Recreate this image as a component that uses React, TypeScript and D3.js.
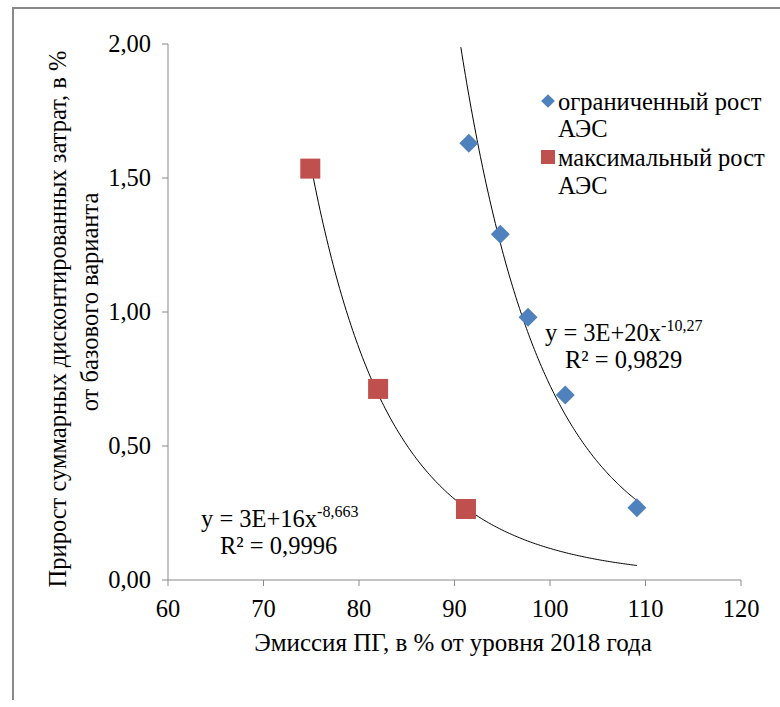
import React from 'react'
import * as d3 from 'd3'

// readings
const limitedX = [91.5, 94.8, 97.7, 101.6, 109.1]
const limitedY = [1.63, 1.29, 0.98, 0.69, 0.27]
const maxX = [74.9, 82.0, 91.2]
const maxY = [1.535, 0.713, 0.265]
const xTicks = [60, 70, 80, 90, 100, 110, 120]
const yTicks = [0, 0.5, 1, 1.5, 2]
const legendLabels = [['ограниченный рост', 'АЭС'], ['максимальный рост', 'АЭС']]
const eqLimited = ['y = 3E+20x', '-10,27', 'R² = 0,9829']
const eqMax = ['y = 3E+16x', '-8,663', 'R² = 0,9996']

const BLUE = '#4f81bd'
const RED = '#c0504d'
const AXIS = '#898989'
const txt = { fontFamily: 'Liberation Serif', fontSize: 24.5, fill: '#000' }

// power trend y = a*x^b, least squares in log space (like Excel)
function powerFit(xs: number[], ys: number[]) {
  const lx = xs.map(Math.log)
  const ly = ys.map(Math.log)
  const mx = d3.mean(lx)!
  const my = d3.mean(ly)!
  const sxy = d3.sum(lx, (v, i) => (v - mx) * (ly[i] - my))
  const sxx = d3.sum(lx, v => (v - mx) * (v - mx))
  const b = sxy / sxx
  const a = Math.exp(my - b * mx)
  return (x: number) => a * Math.pow(x, b)
}

export default function App() {
  const m = { left: 168, top: 44, right: 741, bottom: 580 }
  const x = d3.scaleLinear().domain([60, 120]).range([m.left, m.right])
  const y = d3.scaleLinear().domain([0, 2]).range([m.bottom, m.top])

  const fitA = powerFit(limitedX, limitedY)
  const fitB = powerFit(maxX, maxY)
  const xEnd = d3.max(limitedX)!
  const curve = (f: (v: number) => number, x0: number, x1: number) => {
    const pts = d3.range(0, 201).map(i => x0 + (x1 - x0) * i / 200)
      .map(v => [v, f(v)] as [number, number])
      .filter(p => p[1] <= 2)
    return d3.line<[number, number]>().x(p => x(p[0])).y(p => y(p[1]))(pts)!
  }
  const diamond = d3.symbol().type(d3.symbolDiamond2).size(230)()!

  return (
    <svg width={780} height={707} style={{ position: 'absolute', left: 0, top: 0 }}>
      <rect x={0} y={0} width={780} height={707} fill='#fff' />
      <path d='M13,700V8H780' fill='none' stroke={AXIS} strokeWidth={2} />

      {/* axes */}
      <line x1={m.left} x2={m.left} y1={m.top} y2={m.bottom} stroke={AXIS} />
      <line x1={m.left} x2={m.right} y1={m.bottom} y2={m.bottom} stroke={AXIS} />
      {yTicks.map(t => (
        <g key={'y' + t}>
          <line x1={m.left - 6} x2={m.left} y1={y(t)} y2={y(t)} stroke={AXIS} />
          <text {...txt} x={151} y={y(t)} dy='0.33em' textAnchor='end'>
            {d3.format('.2f')(t).replace('.', ',')}
          </text>
        </g>
      ))}
      {xTicks.map(t => (
        <g key={'x' + t}>
          <line x1={x(t)} x2={x(t)} y1={m.bottom} y2={m.bottom + 6} stroke={AXIS} />
          <text {...txt} x={x(t)} y={617} textAnchor='middle'>{t}</text>
        </g>
      ))}

      <text {...txt} fontSize={25} x={453} y={651} textAnchor='middle'>
        Эмиссия ПГ, в % от уровня 2018 года
      </text>
      <text {...txt} transform='translate(66,319) rotate(-90)' textAnchor='middle'>
        Прирост суммарных дисконтированных затрат, в %
      </text>
      <text {...txt} transform='translate(98,302) rotate(-90)' textAnchor='middle'>
        от базового варианта
      </text>

      {/* trend lines */}
      <path d={curve(fitA, 85, xEnd)} fill='none' stroke='#000' strokeWidth={1} />
      <path d={curve(fitB, d3.min(maxX)!, xEnd)} fill='none' stroke='#000' strokeWidth={1} />

      {/* points */}
      {limitedX.map((v, i) => (
        <path key={'a' + i} d={diamond} transform={`translate(${x(v)},${y(limitedY[i])})`} fill={BLUE} />
      ))}
      {maxX.map((v, i) => (
        <rect key={'b' + i} x={x(v) - 10} y={y(maxY[i]) - 10} width={20} height={20} fill={RED} />
      ))}

      {/* equations */}
      <text {...txt} x={545} y={341}>
        {eqLimited[0]}<tspan dy={-10} fontSize={16}>{eqLimited[1]}</tspan>
      </text>
      <text {...txt} x={565} y={368}>{eqLimited[2]}</text>
      <text {...txt} x={201} y={527}>
        {eqMax[0]}<tspan dy={-10} fontSize={16}>{eqMax[1]}</tspan>
      </text>
      <text {...txt} x={220} y={554}>{eqMax[2]}</text>

      {/* legend */}
      <path d={d3.symbol().type(d3.symbolDiamond2).size(120)()!} transform='translate(548,101)' fill={BLUE} />
      <text {...txt} x={558} y={110}>{legendLabels[0][0]}</text>
      <text {...txt} x={558} y={137}>{legendLabels[0][1]}</text>
      <rect x={541} y={150} width={14} height={14} fill={RED} />
      <text {...txt} x={558} y={166}>{legendLabels[1][0]}</text>
      <text {...txt} x={558} y={194}>{legendLabels[1][1]}</text>
    </svg>
  )
}
